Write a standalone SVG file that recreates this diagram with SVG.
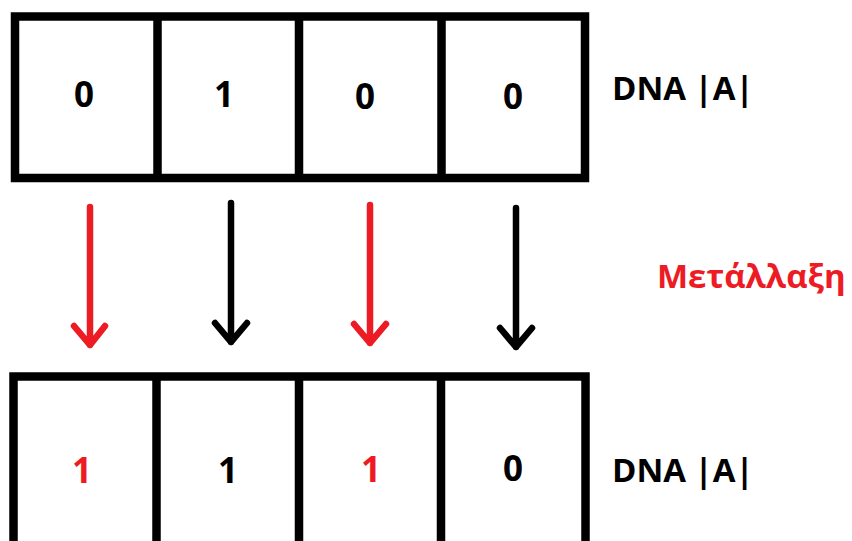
<svg xmlns="http://www.w3.org/2000/svg" width="852" height="541" viewBox="0 0 852 541">
<style>
.box{fill:none;stroke:#000;stroke-width:8.5}
.div{stroke:#000;stroke-width:8.5}
.t{font-family:"Open Sans","Noto Sans","Liberation Sans",sans-serif;font-weight:bold;font-size:33px}
.d{text-anchor:middle;font-size:35px}
.blk{fill:#000}
.red{fill:#ED1C24}
.arr{fill:none;stroke-width:6.5;stroke-linecap:round;stroke-linejoin:round}
</style>
<rect width="852" height="541" fill="#fff"/>
<g id="dna-top">
<rect class="box" x="15" y="16.5" width="570" height="161.5"/>
<line class="div" x1="157.5" y1="16.5" x2="157.5" y2="178"/>
<line class="div" x1="299" y1="16.5" x2="299" y2="178"/>
<line class="div" x1="441.5" y1="16.5" x2="441.5" y2="178"/>
<text class="t d blk" x="84" y="107">0</text>
<text class="t d blk" x="224" y="107">1</text>
<text class="t d blk" x="365" y="109">0</text>
<text class="t d blk" x="513" y="109">0</text>
</g>
<g id="label-top"><text class="t blk" x="612" y="100">DNA |A|</text></g>
<g id="connectors">
<path class="arr" stroke="#ED1C24" d="M90 207V345M74 326L90 345L105 326"/>
<path class="arr" stroke="#000" d="M231 203V342M215 323L231 342L247 323"/>
<path class="arr" stroke="#ED1C24" d="M370 205V343M354 324L370 343L386 324"/>
<path class="arr" stroke="#000" d="M516 208V347M500 328L516 347L532 328"/>
</g>
<g id="label-mut"><text class="t red" x="657" y="288">Μετάλλαξη</text></g>
<g id="dna-bottom">
<rect class="box" x="13.5" y="376.5" width="572" height="180"/>
<line class="div" x1="156.5" y1="376.5" x2="156.5" y2="545"/>
<line class="div" x1="299" y1="376.5" x2="299" y2="545"/>
<line class="div" x1="441" y1="376.5" x2="441" y2="545"/>
<text class="t d red" x="82" y="483">1</text>
<text class="t d blk" x="228" y="483">1</text>
<text class="t d red" x="371" y="482">1</text>
<text class="t d blk" x="513" y="481">0</text>
</g>
<g id="label-bottom"><text class="t blk" x="612" y="482">DNA |A|</text></g>
</svg>
